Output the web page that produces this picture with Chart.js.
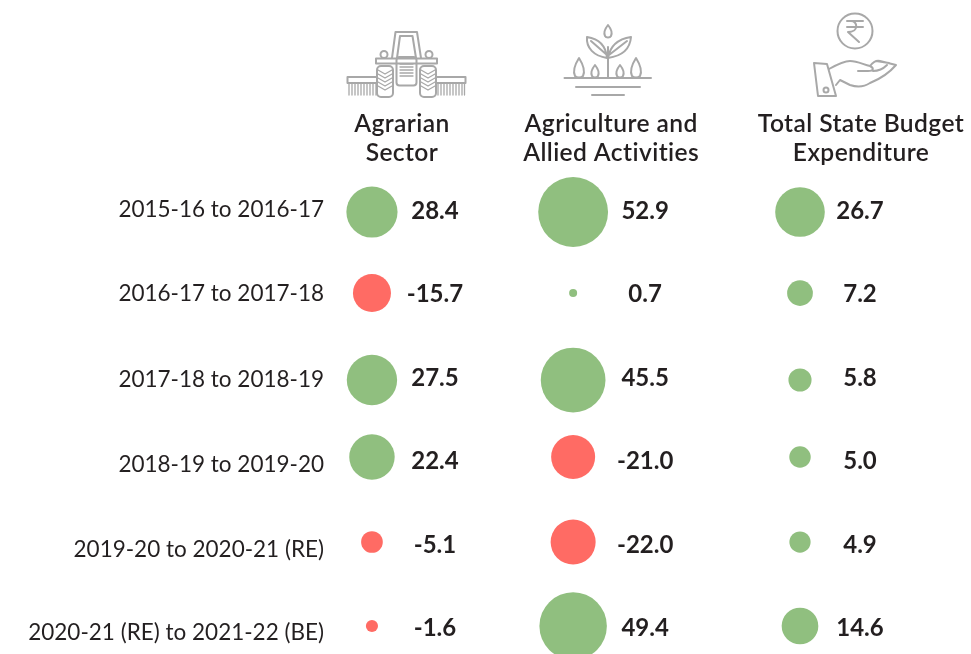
<!DOCTYPE html>
<html><head><meta charset="utf-8">
<style>html,body{margin:0;padding:0;background:#fff;overflow:hidden}
#w{position:relative;width:971px;height:654px}
svg{position:absolute;left:0;top:0;pointer-events:none}
svg *{fill:none;stroke:#a8a8a8;stroke-width:2;stroke-linejoin:round;stroke-linecap:round}
svg .t{stroke-width:1.3}
</style>
<script src="https://cdn.jsdelivr.net/npm/chart.js@4"></script>
</head><body><div id="w"><canvas id="c" width="971" height="654"></canvas>
<svg width="971" height="654" viewBox="0 0 971 654">
<!-- tractor -->
<path d="M392 58L395.500 32H417L421 58M397 58L400 36H412.500L416 58"/>
<rect x="376" y="58.500" width="61" height="5"/>
<circle cx="384" cy="54.500" r="3.500"/><circle cx="429" cy="54.500" r="3.500"/>
<rect x="396.500" y="57" width="20" height="28.500" rx="3"/>
<path class="t" d="M400 64H413M400 67H413M400 70H413M400 73H413M400 76H413"/>
<rect x="377" y="66" width="16" height="31" rx="4"/><rect x="420" y="66" width="16" height="31" rx="4"/>
<path class="t" d="M378 70L385 74L392 70M378 74L385 78L392 74M378 78L385 82L392 78M378 82L385 86L392 82M378 86L385 90L392 86M421 70L428 74L435 70M421 74L428 78L435 74M421 78L428 82L435 78M421 82L428 86L435 82M421 86L428 90L435 86"/>
<rect x="347.500" y="77" width="29.500" height="6"/><rect x="436" y="77" width="29.500" height="6"/>
<path class="t" d="M349 83V95M352 83V95M355 83V95M358 83V95M361 83V95M364 83V95M367 83V95M370 83V95M373 83V95M376 83V95M438 83V95M441 83V95M444 83V95M447 83V95M450 83V95M453 83V95M456 83V95M459 83V95M462 83V95M464.500 83V95"/>
<!-- plant -->
<path d="M608 47V78M564.500 78H651M576 87H640M592 95H624"/>
<path d="M608 25C604 30 604 34 605 36C606 38 610 38 611 36C612 34 612 30 608 25Z"/>
<path d="M607 58C606 46 600 39 587 37C586 48 594 56 607 58ZM591 41L607 55"/>
<path d="M608 58C622 56 630 50 631 37C618 39 610 46 608 58ZM627 41L609 55"/>
<path d="M579 58C574 66 573 72 575 76C577 78 581 78 583 76C585 72 584 66 579 58Z"/>
<path d="M595 65C591 70 591 74 592 76C593 78 597 78 598 76C599 74 599 70 595 65Z"/>
<path d="M620 65C616 70 616 74 617 76C618 78 622 78 623 76C624 74 624 70 620 65Z"/>
<path d="M636 58C631 66 630 72 632 76C634 78 638 78 640 76C642 72 641 66 636 58Z"/>
<!-- rupee hand -->
<circle cx="855" cy="31" r="17.500"/>
<path d="M847 21H863M847 27H863M851 21C858 21 859 32 848 32L859 42"/>
<path d="M814 63L827 64L836 96H818Z"/><circle cx="826" cy="90" r="2.500"/>
<path d="M829 69C838 64 844 61 850 61C858 61 864 65 870 66C874 68 874 71 868 71L858 71M870 66C873 62 876 60 880 61L896 65C890 72 880 79 870 83C864 87 856 87 850 85L840 80L836 85M873 71C879 71 884 68 887 65M876 61L889 63"/>
</svg></div>
<script>
const categories = ["2015-16 to 2016-17","2016-17 to 2017-18","2017-18 to 2018-19","2018-19 to 2019-20","2019-20 to 2020-21 (RE)","2020-21 (RE) to 2021-22 (BE)"];
const agrarian = [28.4,-15.7,27.5,22.4,-5.1,-1.6];
const agriculture = [52.9,0.7,45.5,-21.0,-22.0,49.4];
const totalBudget = [26.7,7.2,5.8,5.0,4.9,14.6];
const columnTitles = [["Agrarian","Sector"],["Agriculture and","Allied Activities"],["Total State Budget","Expenditure"]];

const GREEN="#90bf7f", RED="#ff6b64", INK="#231f20";
const radiusFactor=4.8;
const bubbleRowNudge=[.024,-.006,.036,-.042,-.024,-.018];
const labelRowNudge=[0,.006,.036,.054,.072,.066];
const valueRowNudge=[.012,.012,.012,.012,.012,.012];
const colNudge=[0,-.06,0];
const valueOffsetPx=[63,72,60];
const titleOffsetPx=[30,38,61];
const bubbleData=(vals,c)=>vals.map((v,i)=>({x:c+colNudge[c],y:i+bubbleRowNudge[i],r:radiusFactor*Math.sqrt(Math.abs(v)),v}));
const mk=(name,vals,c)=>({label:name,data:bubbleData(vals,c),clip:false,borderWidth:0,
  backgroundColor:vals.map(v=>v<0?RED:GREEN),hoverBackgroundColor:vals.map(v=>v<0?RED:GREEN)});

const textPlugin={id:"texts",afterDatasetsDraw(ch){
  const {ctx,scales:{x,y}}=ch;
  ctx.save();ctx.textAlign="center";ctx.textBaseline="middle";ctx.fillStyle=INK;
  ch.data.datasets.forEach((ds,c)=>{
    const cx=x.getPixelForValue(c+colNudge[c]);
    ctx.font='700 24px "Lato"';
    ctx.letterSpacing="0px";
    ds.data.forEach((d,i)=>{
      ctx.fillText(d.v.toFixed(1),cx+valueOffsetPx[c],y.getPixelForValue(i+valueRowNudge[i]));
    });
    ctx.font='600 24.6px "Lato"';
    ctx.letterSpacing="0.4px";
    columnTitles[c].forEach((t,k)=>ctx.fillText(t,cx+titleOffsetPx[c],124+k*29));
  });
  ctx.restore();
}};

new Chart(document.getElementById("c"),{
  type:"bubble",
  data:{datasets:[mk("Agrarian Sector",agrarian,0),mk("Agriculture and Allied Activities",agriculture,1),mk("Total State Budget Expenditure",totalBudget,2)]},
  plugins:[textPlugin],
  options:{responsive:false,animation:false,events:[],
    layout:{padding:0,autoPadding:false},
    plugins:{legend:{display:false},tooltip:{enabled:false},title:{display:false}},
    scales:{
      x:{type:"linear",min:-.168,max:2.799,display:false,grid:{display:false}},
      y:{type:"linear",reverse:true,min:-2.515,max:5.317,
        grid:{display:false,drawTicks:false},border:{display:false},
        afterFit(s){s.width=336;s.paddingTop=0;s.paddingBottom=0},
        afterBuildTicks(s){s.ticks=categories.map((_,i)=>({value:i+labelRowNudge[i],label:categories[i]}))},
        afterTickToLabelConversion(s){s.ticks.forEach((t,i)=>{t.label=categories[i]})},
        ticks:{color:INK,font:{family:"Lato",size:22.5,weight:"400"},padding:12,autoSkip:false,maxRotation:0,minRotation:0}
      }
    }
  }
});
</script></body></html>
